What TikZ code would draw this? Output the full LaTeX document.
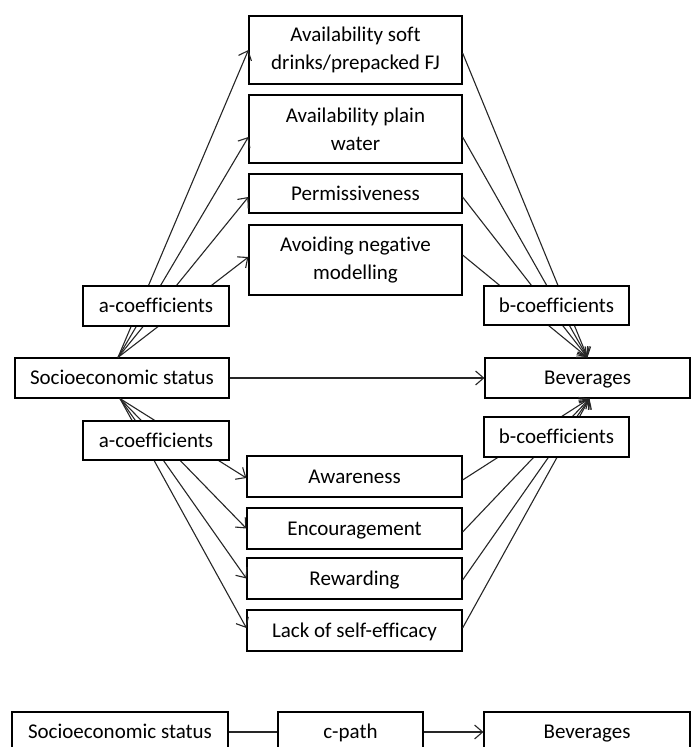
\documentclass[tikz,border=0pt]{standalone}
\usepackage{fontspec}
\setmainfont{Carlito}[Ligatures=NoCommon]
\usetikzlibrary{arrows.meta}
\begin{document}
\begin{tikzpicture}[x=1pt,y=-1pt,
  box/.style={draw=black,line width=1.2pt,fill=white,inner sep=0pt,align=center,
    font=\fontsize{21}{28}\selectfont},
  one/.style={text height=13pt,text depth=0pt},
  coef/.style={box,one,line width=2.5pt},
  conn/.style={draw=black!85,line width=1.1pt},
  arr/.style={conn,-{Straight Barb[length=8pt,width=14pt,line width=1.1pt]}}]
\path[use as bounding box] (0,0) rectangle (691,747);
\clip (0,0) rectangle (691,747);
% upper mediators
\node[box,minimum width=213pt,minimum height=68pt] (s1) at (355.5,50) {Availability soft\\drinks/prepacked FJ};
\node[box,minimum width=213pt,minimum height=68pt] (s2) at (355.5,129) {Availability plain\\water};
\node[box,one,minimum width=213pt,minimum height=39pt] (s3) at (355.5,193.5) {Permissiveness};
\node[box,minimum width=213pt,minimum height=70pt] (s4) at (355.5,260) {Avoiding negative\\modelling};
% main
\node[box,one,minimum width=214pt,minimum height=40pt] (ses) at (122,378) {Socioeconomic status};
\node[box,one,minimum width=205pt,minimum height=40pt] (bev) at (587.5,378) {Beverages};
% lower mediators
\node[box,one,minimum width=215pt,minimum height=41pt] (aw) at (354.5,476.5) {Awareness};
\node[box,one,minimum width=215pt,minimum height=41pt] (en) at (354.5,528.5) {Encouragement};
\node[box,one,minimum width=215pt,minimum height=41pt] (rw) at (354.5,578.5) {Rewarding};
\node[box,one,minimum width=215pt,minimum height=41pt] (lk) at (354.5,630.5) {Lack of self-efficacy};
% connection points
\coordinate (sesT) at ([xshift=-4pt]ses.north);
\coordinate (sesB) at ([xshift=-2pt]ses.south);
\coordinate (bevT) at (bev.north);
\coordinate (bevB) at ([xshift=2pt]bev.south);
% upper a paths
\draw[arr] (sesT) -- (s1.west);
\draw[arr] (sesT) -- ([yshift=-8pt]s2.west);
\draw[arr] (sesT) -- ([yshift=-3.5pt]s3.west);
\draw[arr] (sesT) -- ([yshift=3pt]s4.west);
% upper b paths
\draw[arr] ([yshift=-3pt]s1.east) -- (bevT);
\draw[arr] ([yshift=-8pt]s2.east) -- (bevT);
\draw[arr] ([yshift=-3.5pt]s3.east) -- (bevT);
\draw[arr] ([yshift=5pt]s4.east) -- (bevT);
% lower a paths
\draw[arr] (sesB) -- ([yshift=-1.5pt]aw.west);
\draw[arr] (sesB) -- (en.west);
\draw[arr] (sesB) -- (rw.west);
\draw[arr] (sesB) -- ([yshift=2.5pt]lk.west);
% lower b paths
\draw[arr] ([yshift=-3.5pt]aw.east) -- (bevB);
\draw[arr] ([yshift=-3.5pt]en.east) -- (bevB);
\draw[arr] ([yshift=-1.5pt]rw.east) -- (bevB);
\draw[arr] ([yshift=2.5pt]lk.east) -- (bevB);
% direct
\draw[arr] (ses.east) -- (bev.west);
% coefficient labels
\node[coef,minimum width=146pt,minimum height=40pt] (acU) at (156,306) {a-coefficients};
\node[coef,minimum width=146pt,minimum height=39pt] (acL) at (156,440.5) {a-coefficients};
\node[coef,minimum width=145pt,minimum height=39pt] (bcU) at (556.5,305.5) {b-coefficients};
\node[coef,minimum width=145pt,minimum height=40pt] (bcL) at (556.5,437) {b-coefficients};
% c-path row
\node[box,one,minimum width=216pt,minimum height=40pt] (ses2) at (120,732) {Socioeconomic status};
\node[coef,minimum width=145pt,minimum height=40pt] (cp) at (350.5,732) {c-path};
\node[box,one,minimum width=206pt,minimum height=40pt] (bev2) at (587,732) {Beverages};
\draw[conn] (ses2.east) -- (cp.west);
\draw[arr] (cp.east) -- (bev2.west);
\end{tikzpicture}
\end{document}
